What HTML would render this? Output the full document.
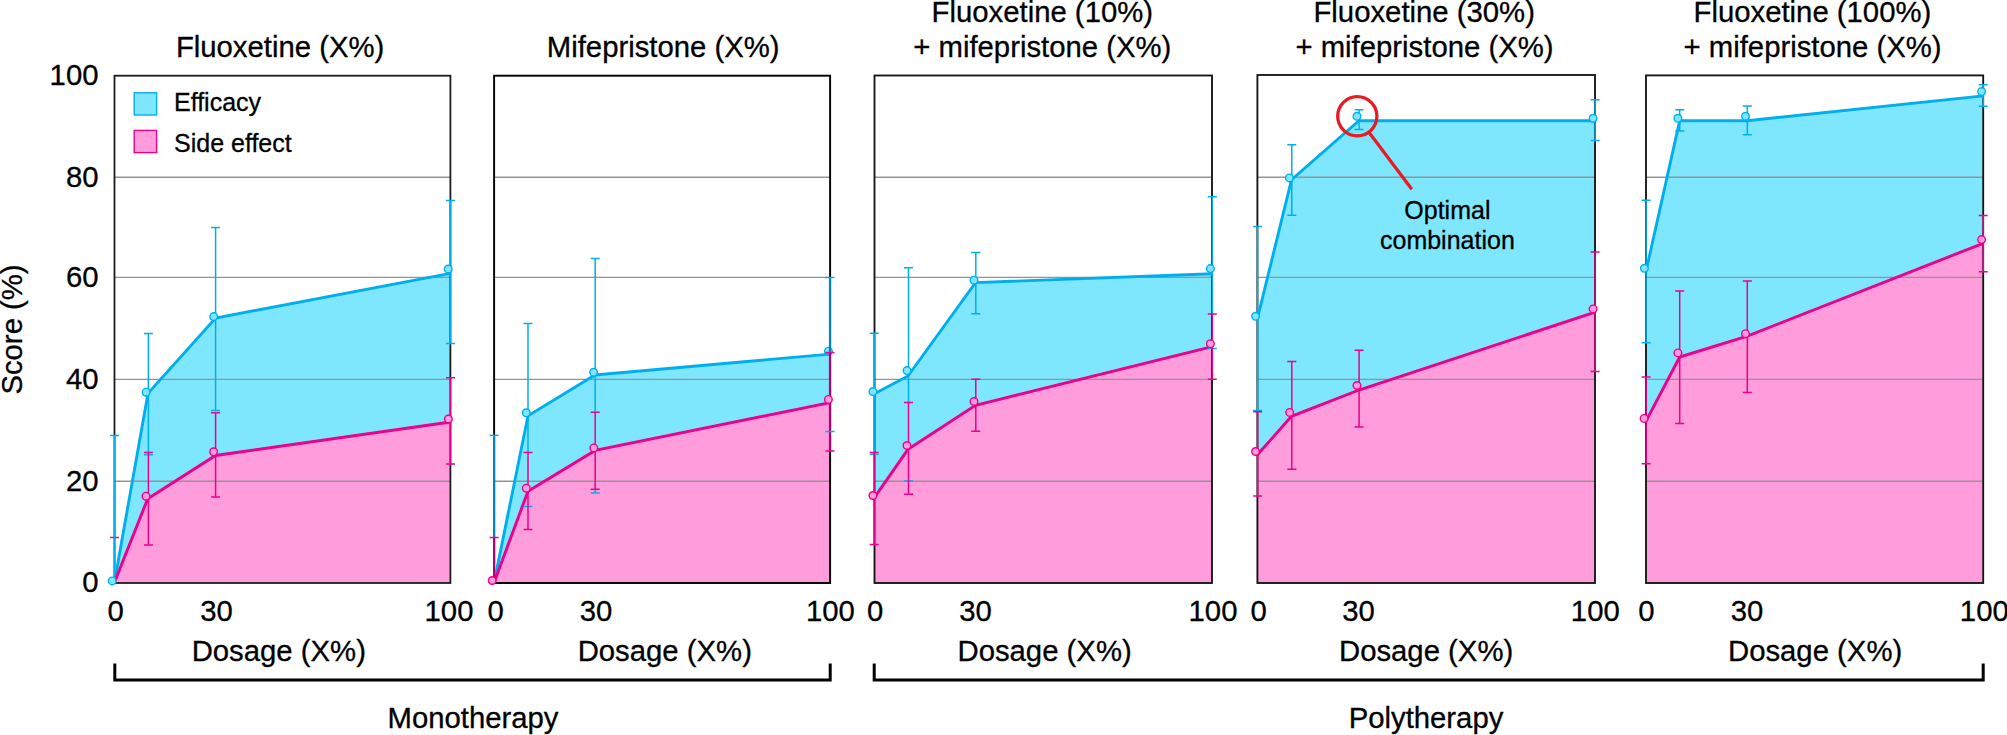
<!DOCTYPE html>
<html lang="en">
<head>
<meta charset="utf-8">
<title>Dosage vs score</title>
<style>
html,body{margin:0;padding:0;background:#fff;}
body{width:2007px;height:735px;overflow:hidden;}
svg{display:block;}
text{font-family:"Liberation Sans",Arial,Helvetica,sans-serif;fill:#000;stroke:#000;stroke-width:0.3px;}
.t{font-size:29.3px;}
.s{font-size:25px;}
.m{text-anchor:middle;}
.e{text-anchor:end;}
.bl{fill:none;stroke:#00AEEF;stroke-width:2.9;stroke-linejoin:miter;}
.pl{fill:none;stroke:#EC008C;stroke-width:2.9;stroke-linejoin:miter;}
.be{fill:none;stroke:#00AEEF;stroke-width:1.5;}
.pe{fill:none;stroke:#EC008C;stroke-width:1.5;}
.bm{fill:#7EE7FE;stroke:#00AEEF;stroke-width:1.4;}
.pm{fill:#FF9CDB;stroke:#EC008C;stroke-width:1.4;}
.g{stroke:#949494;stroke-width:1.4;fill:none;}
.br{fill:none;stroke:#000;stroke-width:3;}
</style>
</head>
<body>
<svg width="2007" height="735" viewBox="0 0 2007 735">
<rect x="0" y="0" width="2007" height="735" fill="#fff"/>

<g id="panel1">
<polygon fill="#7EE7FE" points="114.4,582.6 148,393.3 215.6,318 450.5,273.3 450.4,582.6 114.5,582.6"/>
<polygon fill="#FF9CDB" points="114.4,582.6 147.7,498.8 215.5,455.5 450.5,422 450.4,582.6 114.5,582.6"/>
<path class="g" d="M114.5 177.3H450.4M114.5 277.4H450.4M114.5 379.4H450.4M114.5 481.3H450.4"/>
<rect x="114.5" y="75.7" width="335.9" height="507.3" fill="none" stroke="#1c1c1c" stroke-width="1.8"/>
<polyline class="bl" points="114.4,582.6 148,393.3 215.6,318 450.5,273.3"/>
<polyline class="pl" points="114.4,582.6 147.7,498.8 215.5,455.5 450.5,422"/>
<path class="pe" d="M110.1 537.5H119.1"/>
<path class="be" d="M114.6 435.6V582.6M110.1 435.6H119.1"/>
<path class="be" d="M148.4 333.5V452.6M143.9 333.5H152.9M143.9 454.8H152.9"/>
<path class="pe" d="M148.4 452.6V545.1M143.9 452.6H152.9M143.9 545.1H152.9"/>
<path class="be" d="M215.6 227.6V410.5M211.1 227.6H220.1M211.1 410.5H220.1"/>
<path class="pe" d="M215.6 412.8V496.9M211.1 412.8H220.1M211.1 496.9H220.1"/>
<path class="be" d="M450.5 200.4V343.4M446 200.4H455M446 343.4H455"/>
<path class="pe" d="M450.5 377.7V464M446 377.7H455M446 464H455"/>
<circle class="pm" cx="146" cy="496.2" r="3.8"/>
<circle class="pm" cx="213.6" cy="451.8" r="3.8"/>
<circle class="pm" cx="448.4" cy="419" r="3.8"/>
<circle class="bm" cx="112.2" cy="580.9" r="3.8"/>
<circle class="bm" cx="146.1" cy="392.2" r="3.8"/>
<circle class="bm" cx="213.7" cy="316.6" r="3.8"/>
<circle class="bm" cx="448.2" cy="269" r="3.8"/>
<text class="t m" x="280.1" y="56.8">Fluoxetine (X%)</text>
<text class="t m" x="115.7" y="621.3">0</text>
<text class="t m" x="216.5" y="621.3">30</text>
<text class="t m" x="449" y="621.3">100</text>
<text class="t m" x="278.8" y="661">Dosage (X%)</text>
</g>
<g id="panel2">
<polygon fill="#7EE7FE" points="494.1,582.6 528,415.8 595,375 830,354.1 830,582.6 494.1,582.6"/>
<polygon fill="#FF9CDB" points="494.1,582.6 528,491.2 595.2,450.4 830,402.6 830,582.6 494.1,582.6"/>
<path class="g" d="M494.1 177.3H830M494.1 277.4H830M494.1 379.4H830M494.1 481.3H830"/>
<rect x="494.1" y="75.7" width="336" height="507.3" fill="none" stroke="#050505" stroke-width="1.95"/>
<circle class="bm" cx="828.4" cy="351.2" r="3.8"/>
<polyline class="bl" points="494.1,582.6 528,415.8 595,375 830,354.1"/>
<polyline class="pl" points="494.1,582.6 528,491.2 595.2,450.4 830,402.6"/>
<path d="M494.1 435.4V537.5" fill="none" stroke="#0583BA" stroke-width="2.2"/>
<path d="M494.1 537.5V582.6" fill="none" stroke="#B8006D" stroke-width="2.2"/>
<path class="be" d="M489.6 435.4H498.6"/>
<path class="pe" d="M489.6 537.5H498.6"/>
<path class="be" d="M528 323.5V452.5M523.5 323.5H532.5M523.5 506.4H532.5"/>
<path class="pe" d="M528 452.5V529.6M523.5 452.5H532.5M523.5 529.6H532.5"/>
<path class="be" d="M595.2 258.4V412.2M595.2 489.3V493.1M590.7 258.4H599.7M590.7 493.1H599.7"/>
<path class="pe" d="M595.2 412.2V489.3M590.7 412.2H599.7M590.7 489.3H599.7"/>
<path d="M830 277.5V352.4" fill="none" stroke="#0583BA" stroke-width="2.2"/>
<path d="M830 352.4V450.9" fill="none" stroke="#B8006D" stroke-width="2.2"/>
<path class="be" d="M825.5 277.5H834.5M825.5 431.6H834.5"/>
<path class="pe" d="M825.5 352.4H834.5M825.5 450.9H834.5"/>
<circle class="pm" cx="492.2" cy="580.5" r="3.8"/>
<circle class="pm" cx="526.3" cy="488.2" r="3.8"/>
<circle class="pm" cx="593.8" cy="447.9" r="3.8"/>
<circle class="pm" cx="828.4" cy="399.4" r="3.8"/>
<circle class="bm" cx="526.3" cy="412.8" r="3.8"/>
<circle class="bm" cx="593.6" cy="372.3" r="3.8"/>
<text class="t m" x="663.2" y="56.8">Mifepristone (X%)</text>
<text class="t m" x="495.6" y="621.3">0</text>
<text class="t m" x="596.1" y="621.3">30</text>
<text class="t m" x="830.4" y="621.3">100</text>
<text class="t m" x="664.8" y="661">Dosage (X%)</text>
</g>
<g id="panel3">
<polygon fill="#7EE7FE" points="874,394 908,376 975.5,282.6 1212.3,273.7 1212,582.6 874.5,582.6"/>
<polygon fill="#FF9CDB" points="874,498.2 908,449.4 975.5,405.4 1212.3,346.7 1212,582.6 874.5,582.6"/>
<path class="g" d="M874.5 177.3H1212M874.5 277.4H1212M874.5 379.4H1212M874.5 481.3H1212"/>
<rect x="874.5" y="75.5" width="337.5" height="507.5" fill="none" stroke="#141414" stroke-width="1.85"/>
<polyline class="bl" points="874,394 908,376 975.5,282.6 1212.3,273.7"/>
<polyline class="pl" points="874,498.2 908,449.4 975.5,405.4 1212.3,346.7"/>
<path class="be" d="M874.2 333.2V452.4M869.7 333.2H878.7M869.7 454.2H878.7"/>
<path class="pe" d="M874.2 452.4V544.6M869.7 452.4H878.7M869.7 544.6H878.7"/>
<path class="be" d="M908.5 267.7V402.4M904 267.7H913M904 481.1H913"/>
<path class="pe" d="M908.5 402.4V494.3M904 402.4H913M904 494.3H913"/>
<path class="be" d="M975.8 252.4V313.8M971.3 252.4H980.3M971.3 313.8H980.3"/>
<path class="pe" d="M975.8 379.3V431.2M971.3 379.3H980.3M971.3 431.2H980.3"/>
<path class="be" d="M1212.3 196.8V314.1M1207.8 196.8H1216.8M1207.8 348.5H1216.8"/>
<path class="pe" d="M1212.3 314.1V379.3M1207.8 314.1H1216.8M1207.8 379.3H1216.8"/>
<circle class="pm" cx="872.9" cy="495.5" r="3.8"/>
<circle class="pm" cx="907" cy="445.5" r="3.8"/>
<circle class="pm" cx="974" cy="401.5" r="3.8"/>
<circle class="pm" cx="1210.4" cy="343.7" r="3.8"/>
<circle class="bm" cx="872.9" cy="391.6" r="3.8"/>
<circle class="bm" cx="907" cy="370.6" r="3.8"/>
<circle class="bm" cx="974" cy="280.2" r="3.8"/>
<circle class="bm" cx="1210.4" cy="268.6" r="3.8"/>
<text class="t m" x="1042.3" y="21.8">Fluoxetine (10%)</text>
<text class="t m" x="1042.3" y="56.8">+ mifepristone (X%)</text>
<text class="t m" x="875.2" y="621.3">0</text>
<text class="t m" x="975.5" y="621.3">30</text>
<text class="t m" x="1213" y="621.3">100</text>
<text class="t m" x="1044.6" y="661">Dosage (X%)</text>
</g>
<g id="panel4">
<polygon fill="#7EE7FE" points="1257.4,318.7 1291.5,179.7 1359,120.7 1595.1,120.7 1595,582.6 1257.4,582.6"/>
<polygon fill="#FF9CDB" points="1257.4,454.8 1291.5,416.3 1359,390 1595.1,312.2 1595,582.6 1257.4,582.6"/>
<path class="g" d="M1257.4 177.3H1595M1257.4 277.4H1595M1257.4 379.4H1595M1257.4 481.3H1595"/>
<rect x="1257.4" y="75" width="337.6" height="508" fill="none" stroke="#141414" stroke-width="1.85"/>
<polyline class="bl" points="1257.4,318.7 1291.5,179.7 1359,120.7 1595.1,120.7"/>
<polyline class="pl" points="1257.4,454.8 1291.5,416.3 1359,390 1595.1,312.2"/>
<path class="be" d="M1257.6 226.6V410.6M1253.1 226.6H1262.1M1253.1 410.6H1262.1"/>
<path class="pe" d="M1257.6 411.8V496.1M1253.1 411.8H1262.1M1253.1 496.1H1262.1"/>
<path class="be" d="M1291.8 144.7V215.3M1287.3 144.7H1296.3M1287.3 215.3H1296.3"/>
<path class="pe" d="M1291.8 361.5V469.2M1287.3 361.5H1296.3M1287.3 469.2H1296.3"/>
<path class="be" d="M1359.1 109.7V129.4M1354.6 109.7H1363.6M1354.6 129.4H1363.6"/>
<path class="pe" d="M1359.1 350.2V426.9M1354.6 350.2H1363.6M1354.6 426.9H1363.6"/>
<path class="be" d="M1595.1 99.8V140.5M1590.6 99.8H1599.6M1590.6 140.5H1599.6"/>
<path class="pe" d="M1595.1 252V371.4M1590.6 252H1599.6M1590.6 371.4H1599.6"/>
<circle class="pm" cx="1255.6" cy="451.5" r="3.8"/>
<circle class="pm" cx="1289.7" cy="412.4" r="3.8"/>
<circle class="pm" cx="1357" cy="385.5" r="3.8"/>
<circle class="pm" cx="1593.1" cy="308.9" r="3.8"/>
<circle class="bm" cx="1255.6" cy="316.3" r="3.8"/>
<circle class="bm" cx="1289.4" cy="177.9" r="3.8"/>
<circle class="bm" cx="1357" cy="116.3" r="3.8"/>
<circle class="bm" cx="1593.1" cy="118.3" r="3.8"/>
<text class="t m" x="1424.2" y="21.8">Fluoxetine (30%)</text>
<text class="t m" x="1424.5" y="56.8">+ mifepristone (X%)</text>
<text class="t m" x="1258.7" y="621.3">0</text>
<text class="t m" x="1358.6" y="621.3">30</text>
<text class="t m" x="1595.3" y="621.3">100</text>
<text class="t m" x="1426.1" y="661">Dosage (X%)</text>
</g>
<g id="panel5">
<polygon fill="#7EE7FE" points="1645.9,271.8 1679.7,120.7 1747.3,120.7 1983.2,95.9 1983.2,582.6 1646,582.6"/>
<polygon fill="#FF9CDB" points="1645.9,421.4 1679.7,357 1747.3,336.1 1983.2,243.3 1983.2,582.6 1646,582.6"/>
<path class="g" d="M1646 177.3H1983.2M1646 277.4H1983.2M1646 379.4H1983.2M1646 481.3H1983.2"/>
<rect x="1646" y="75.4" width="337.2" height="507.6" fill="none" stroke="#141414" stroke-width="1.85"/>
<polyline class="bl" points="1645.9,271.8 1679.7,120.7 1747.3,120.7 1983.2,95.9"/>
<polyline class="pl" points="1645.9,421.4 1679.7,357 1747.3,336.1 1983.2,243.3"/>
<path class="be" d="M1646.1 200.3V342.7M1641.6 200.3H1650.6M1641.6 342.7H1650.6"/>
<path class="pe" d="M1646.1 377.1V463.7M1641.6 377.1H1650.6M1641.6 463.7H1650.6"/>
<path class="be" d="M1679.7 109.7V130.9M1675.2 109.7H1684.2M1675.2 130.9H1684.2"/>
<path class="pe" d="M1679.7 290.9V423.5M1675.2 290.9H1684.2M1675.2 423.5H1684.2"/>
<path class="be" d="M1747.3 106.1V134.8M1742.8 106.1H1751.8M1742.8 134.8H1751.8"/>
<path class="pe" d="M1747.3 281V392.4M1742.8 281H1751.8M1742.8 392.4H1751.8"/>
<path class="be" d="M1983.2 84.7V106.2M1978.7 84.7H1987.7M1978.7 106.2H1987.7"/>
<path class="pe" d="M1983.2 215.6V271.7M1978.7 215.6H1987.7M1978.7 271.7H1987.7"/>
<circle class="pm" cx="1644.1" cy="418.4" r="3.8"/>
<circle class="pm" cx="1677.9" cy="352.9" r="3.8"/>
<circle class="pm" cx="1745.5" cy="333.7" r="3.8"/>
<circle class="pm" cx="1981.6" cy="239.6" r="3.8"/>
<circle class="bm" cx="1644.4" cy="268.3" r="3.8"/>
<circle class="bm" cx="1677.9" cy="118.3" r="3.8"/>
<circle class="bm" cx="1745.5" cy="116.3" r="3.8"/>
<circle class="bm" cx="1981.6" cy="91.6" r="3.8"/>
<text class="t m" x="1812.4" y="21.8">Fluoxetine (100%)</text>
<text class="t m" x="1812.6" y="56.8">+ mifepristone (X%)</text>
<text class="t m" x="1646.4" y="621.3">0</text>
<text class="t m" x="1747" y="621.3">30</text>
<text class="t m" x="1984.3" y="621.3">100</text>
<text class="t m" x="1815.1" y="661">Dosage (X%)</text>
</g>
<text class="t e" x="98.5" y="85.3">100</text>
<text class="t e" x="98.5" y="186.6">80</text>
<text class="t e" x="98.5" y="287.3">60</text>
<text class="t e" x="98.5" y="388.7">40</text>
<text class="t e" x="98.5" y="490.5">20</text>
<text class="t e" x="98.5" y="591.9">0</text>
<text class="t m" transform="translate(21.7 329.5) rotate(-90)">Score (%)</text>
<rect x="134.2" y="92.8" width="22.4" height="22.2" fill="#7EE7FE" stroke="#00AEEF" stroke-width="1.4"/>
<rect x="134.2" y="130.4" width="22.4" height="22.2" fill="#FF9CDB" stroke="#EC008C" stroke-width="1.4"/>
<text class="s" x="174" y="111.4">Efficacy</text>
<text class="s" x="174" y="151.7">Side effect</text>
<circle cx="1357.3" cy="116.3" r="19.6" fill="none" stroke="#E81A24" stroke-width="3.3"/>
<path d="M1369.3 132.8L1411.8 189.3" fill="none" stroke="#E81A24" stroke-width="3.2"/>
<text class="s m" x="1447.4" y="218.6">Optimal</text>
<text class="s m" x="1447.4" y="248.8">combination</text>
<path class="br" d="M114.8 663.4V680H830.2V663.4"/>
<path class="br" d="M874.2 663.4V680H1983.2V663.4"/>
<text class="t m" x="473" y="728.2">Monotherapy</text>
<text class="t m" x="1426" y="728.2">Polytherapy</text>
</svg>
</body>
</html>
